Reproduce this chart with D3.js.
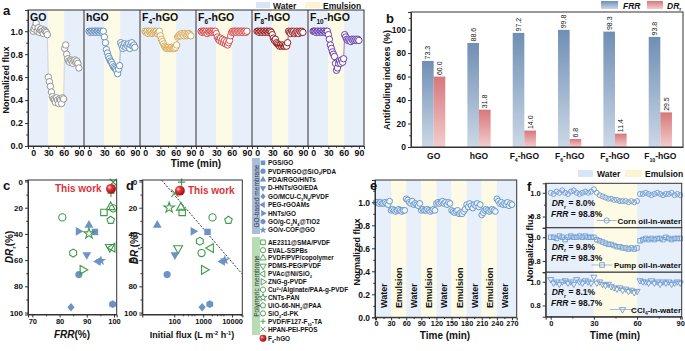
<!DOCTYPE html>
<html>
<head>
<meta charset="utf-8">
<script src="https://cdn.jsdelivr.net/npm/d3@7"></script>
<style>
body { margin: 0; background: #fff; }
text { font-family: "Liberation Sans", Arial, sans-serif; }
</style>
</head>
<body>
<svg id="fig" width="685" height="351"></svg>
<script>
// ---------- panel a : normalized flux of each membrane, sampled every 2 min ----------
var timeA = [0,2,4,6,8,10,12,14,16,18,20,22,24,26,28,30,32,34,36,38,40,42,44,46,48,50,52,54,56,58,60,62,64,66,68,70,72,74,76,78,80,82,84,86,88,90];
var fluxGO = [1.0,1.02,1.04,1.07,1.0,1.03,0.99,1.01,1.02,1.0,0.98,1.01,1.0,0.99,0.97,
  0.6,0.56,0.52,0.47,0.43,0.41,0.4,0.38,0.42,0.4,0.37,0.41,0.4,0.37,0.42,0.41,
  0.85,0.88,0.8,0.76,0.74,0.73,0.75,0.74,0.72,0.74,0.75,0.73,0.74,0.72,0.68];
var fluxHGO = [1.0,0.99,1.0,1.0,0.99,1.0,1.0,0.99,1.0,1.0,0.99,1.0,1.0,0.99,1.0,
  0.95,0.9,0.84,0.81,0.78,0.76,0.74,0.73,0.71,0.69,0.68,0.67,0.66,0.63,0.67,0.7,
  0.9,0.88,0.85,0.87,0.89,0.86,0.88,0.87,0.89,0.85,0.88,0.9,0.87,0.88,0.86];
var fluxF4 = [1.0,0.99,1.0,0.98,1.0,0.99,1.0,0.98,0.99,1.0,0.99,1.0,0.98,0.99,1.0,
  0.96,0.93,0.91,0.89,0.87,0.86,0.85,0.85,0.86,0.85,0.85,0.86,0.85,0.85,0.85,0.86,
  0.88,0.95,0.96,0.97,0.96,0.98,0.97,0.96,0.98,0.97,0.96,0.97,0.98,0.97,0.96];
var fluxF6 = [1.0,0.99,1.0,1.0,0.99,1.0,0.98,1.0,0.99,1.0,1.0,0.99,1.0,0.99,1.0,
  0.98,0.95,0.93,0.92,0.94,0.91,0.93,0.9,0.92,0.89,0.91,0.88,0.9,0.92,0.96,0.99,
  1.0,0.99,1.0,1.0,0.99,1.0,1.0,0.99,1.0,1.0,0.99,1.0,1.0,0.99,1.0];
var fluxF8 = [1.0,1.0,0.99,1.0,1.0,0.99,1.0,1.0,0.99,1.0,1.0,0.99,1.0,1.0,0.99,
  0.97,0.94,0.92,0.93,0.9,0.89,0.88,0.87,0.88,0.87,0.88,0.87,0.87,0.88,0.87,0.9,
  1.0,0.99,0.98,1.0,0.99,1.0,0.98,0.99,1.0,0.99,0.98,1.0,0.99,1.0,0.99];
var fluxF10 = [1.0,1.0,1.0,0.99,1.0,1.0,0.99,1.0,1.0,0.99,1.0,1.0,0.99,1.0,1.0,
  0.97,0.93,0.88,0.85,0.82,0.8,0.78,0.72,0.66,0.68,0.72,0.74,0.72,0.75,0.73,0.76,
  0.97,0.95,0.93,0.92,0.93,0.92,0.91,0.93,0.92,0.93,0.92,0.93,0.92,0.93,0.92];
var membranes = ["GO","hGO","F_{4}-hGO","F_{6}-hGO","F_{8}-hGO","F_{10}-hGO"];
var memColors = ["#8a8a8a","#5b87b8","#d3a24c","#cf3d3d","#8c0b0b","#5a2da3"];
var bandFrom = [-10, 30, 61];
var bandTo = [30, 61, 100];
var bandKind = ["Water","Emulsion","Water"];

// ---------- panel b : antifouling indexes ----------
var frr = [73.3, 88.6, 97.2, 99.8, 98.3, 93.8];
var drr = [60.0, 31.8, 14.0, 6.8, 11.4, 29.5];

// ---------- panels c, d : literature comparison ----------
var litNames = ["PGS/GO","PVDF/RGO@SiO_{2}/PDA","PDA/RGO/HNTs","D-HNTs/GO/EDA","GO/MCU-C_{3}N_{4}/PVDF",
  "PEG-rGOAMs","HNTs/GO","GO/g-C_{3}N_{4}@TiO2","GO/v-COF@GO",
  "AE2311@SMA/PVDF","EVAL-SSPBs","PVDF/PVP/copolymer","PDMS-PEG/PVDF","PVAc@Ni/SiO_{2}","ZNG-g-PVDF",
  "Cu^{2+}/Alginate/PAA-g-PVDF","CNTs-PAN","UiO-66-NH_{2}@PAA","SiO_{2}-d-PK","PVDF/F127-F_{10}-TA","HPAN-PEI-PFOS","F_{6}-hGO"];
var litGroup = ["GO","GO","GO","GO","GO","GO","GO","GO","GO",
  "P","P","P","P","P","P","P","P","P","P","P","P","this"];
var litMarker = ["square","circle","tri","triDown","diamond","triLeft","triRight","hexagon","star",
  "square","circle","tri","triDown","triLeft","triRight","hexagon","star","pentagon","circle","plus","cross","sphere"];
var cFRR = [93, 87.1, 90.8, 90, 84.2, 94.2, 86.9, 99.5, 95.2, 96.3, 81, 98.8, 98.5, 99.4, 88.5, 85, 90.8, 98.8, 99.7, 98.9, 99.7, 98.9];
var cDR = [38.5, 71, 33.3, 55.9, 96, 61, 38, 93.6, 60.5, 23.6, 27.4, 19.5, 50, 50.5, 67.4, 54.6, 39.7, 29.5, 20.5, 9, 0.5, 5.6];
var dFlux = [1418, 57, 26, 106, 925, 4667, 452, 1702, 5600, 189, 2108, 170, 137, 1844, 1083, 769, 67, 7510, 881, 180, 106, 157];
var dDR = [38.5, 71, 33.3, 56, 96, 61, 38, 93.6, 60, 23.6, 27.4, 20, 51, 50.8, 67.4, 45.6, 20, 29.5, 54.6, 0.5, 9, 7];
var guideFlux = [37, 22100];
var guideDR = [-1, 70.5];

// ---------- panel e : cycling, every 3 min ----------
var timeE = d3.range(0, 271, 3);
var fluxE = [1.0,1.0,0.99,1.0,0.99,0.99,1.0,0.99,0.98,1.01,
  0.93,0.94,0.93,0.92,0.93,0.94,0.93,0.92,0.93,0.93,
  1.03,1.02,1.0,0.99,1.01,0.98,0.99,0.98,0.97,0.99,
  0.93,0.94,0.93,0.93,0.94,0.93,0.92,0.93,0.94,0.93,
  0.99,1.0,0.99,1.0,1.01,0.99,1.0,0.98,1.0,0.99,
  0.93,0.92,0.91,0.92,0.93,0.9,0.91,0.9,0.92,0.94,
  0.98,0.96,0.99,0.97,0.95,0.98,0.97,0.99,0.96,0.98,
  0.89,0.91,0.93,0.94,0.93,0.92,0.93,0.94,0.93,0.92,
  1.03,1.01,0.99,1.0,0.98,0.99,0.98,1.0,0.97,0.99,0.98];
var cycleEdges = [30,60,90,120,150,180,210,240];

// ---------- panel f : three emulsions ----------
var timeF = timeA;
var fluxCorn = [1.0,0.99,1.01,1.0,1.02,1.0,0.99,1.01,1.02,1.0,0.99,1.0,1.01,1.0,1.01,
  1.03,1.0,0.98,0.97,0.96,0.95,0.95,0.94,0.94,0.93,0.93,0.93,0.92,0.93,0.92,0.93,
  0.99,0.99,1.0,0.99,0.98,0.99,1.0,0.99,0.98,0.99,0.99,1.0,0.98,0.99,0.98];
var fluxPump = [1.0,1.0,0.99,1.01,1.0,0.98,1.0,1.01,1.0,1.0,1.01,1.0,1.01,1.0,1.0,
  1.0,0.98,0.97,0.96,0.95,0.94,0.94,0.93,0.92,0.92,0.91,0.91,0.9,0.91,0.9,0.91,
  0.97,0.98,0.99,0.98,0.99,0.98,0.99,0.99,0.98,1.0,0.99,0.98,0.99,0.99,0.99];
var fluxCCl4 = [1.02,0.99,1.0,0.98,1.0,1.01,0.99,1.0,0.98,1.02,1.0,0.99,1.01,1.0,0.99,
  1.04,0.99,1.0,0.98,0.97,0.98,0.96,0.95,0.94,0.95,0.93,0.94,0.92,0.93,0.91,0.92,
  1.01,1.0,1.0,0.99,1.01,0.99,1.0,0.98,1.0,0.99,1.0,0.98,0.99,1.0,0.99];
var fNames = ["Corn oil-in-water","Pump oil-in-water","CCl_{4}-in-water"];
var fDR = ["8.0%","9.8%","8.1%"];
var fFRR = ["98.8%","98.3%","98.7%"];
var fMarker = ["circle","square","triDown"];

var WATER = "#e7effb", EMUL = "#fdfbe6", AX = "#333";
var svg = d3.select("#fig");
var defs = svg.append("defs");

function grad(id, c1, c2) {
  var g = defs.append("linearGradient").attr("id", id)
    .attr("x1", 0).attr("y1", 0).attr("x2", 0).attr("y2", 1);
  g.append("stop").attr("offset", "0%").attr("stop-color", c1);
  g.append("stop").attr("offset", "100%").attr("stop-color", c2);
}
grad("gFRR", "#6f8fb4", "#cbd8e7");
grad("gDR", "#d7777b", "#f3cdce");
var sph = defs.append("radialGradient").attr("id", "sph").attr("cx", "35%").attr("cy", "35%").attr("r", "65%");
sph.append("stop").attr("offset", "0%").attr("stop-color", "#ffd8d8");
sph.append("stop").attr("offset", "35%").attr("stop-color", "#e3383d");
sph.append("stop").attr("offset", "100%").attr("stop-color", "#9c1218");

// text with _{sub}, ^{sup} and *italic* pieces
function rich(sel, str, fs) {
  var parts = str.split(/([_^]\{[^}]*\}|\*[^*]*\*)/).filter(function(p) { return p !== ""; });
  var shift = 0;
  parts.forEach(function(p) {
    var t = sel.append("tspan");
    var m = p.match(/^([_^])\{([^}]*)\}$/);
    if (m) {
      var s = m[1] == "_" ? fs * 0.3 : -fs * 0.38;
      t.attr("dy", s - shift).attr("font-size", fs * 0.62).text(m[2]);
      shift = s;
    } else {
      var it = p[0] == "*";
      t.attr("dy", -shift).text(it ? p.slice(1, -1) : p);
      if (it) t.attr("font-style", "italic");
      shift = 0;
    }
  });
}
function label(x, y, str, fs, opt) {
  opt = opt || {};
  var t = svg.append("text").attr("x", x).attr("y", y).attr("font-size", fs)
    .attr("font-weight", opt.weight || "bold").attr("fill", opt.fill || "#111")
    .attr("text-anchor", opt.anchor || "start");
  if (opt.rotate) t.attr("transform", "rotate(" + opt.rotate + "," + x + "," + y + ")");
  rich(t, str, fs);
  return t;
}
function styleAxis(g, fs) {
  g.attr("font-family", null).attr("font-size", null);
  g.selectAll(".domain").attr("stroke", AX);
  g.selectAll(".tick line").attr("stroke", AX);
  g.selectAll(".tick text").attr("font-size", fs).attr("font-weight", "bold").attr("fill", "#111");
  return g;
}
function minor(orient, scale, vals, tx, ty) {
  var ax = (orient == "left" ? d3.axisLeft : d3.axisBottom)(scale).tickValues(vals).tickSize(1.8).tickFormat("");
  var g = svg.append("g").attr("transform", "translate(" + tx + "," + ty + ")").call(ax);
  g.select(".domain").remove();
  g.selectAll(".tick line").attr("stroke", AX);
}
function frame(x0, y0, x1, y1) {
  svg.append("rect").attr("x", x0).attr("y", y0).attr("width", x1 - x0).attr("height", y1 - y0)
    .attr("fill", "none").attr("stroke", AX).attr("stroke-width", 1);
}
function poly(n, r, a0) {
  var pts = d3.range(n).map(function(k) {
    var a = (a0 + k * 360 / n) * Math.PI / 180;
    return [r * Math.cos(a), r * Math.sin(a)];
  });
  return "M" + pts.join("L") + "Z";
}
function symPath(type, r) {
  if (type == "circle") return d3.symbol(d3.symbolCircle, Math.PI * r * r)();
  if (type == "square") return d3.symbol(d3.symbolSquare, 3.2 * r * r)();
  if (type.indexOf("tri") == 0) return d3.symbol(d3.symbolTriangle, 2.6 * r * r)();
  if (type == "diamond") return "M0," + (-r * 1.2) + "L" + r + ",0L0," + (r * 1.2) + "L" + (-r) + ",0Z";
  if (type == "hexagon") return poly(6, r * 1.1, -90);
  if (type == "pentagon") return poly(5, r * 1.1, -90);
  if (type == "star") return d3.symbol(d3.symbolStar, 2.6 * r * r)();
  if (type == "plus") return "M" + (-r) + ",0H" + r + "M0," + (-r) + "V" + r;
  if (type == "cross") return "M" + (-r) + "," + (-r) + "L" + r + "," + r + "M" + (-r) + "," + r + "L" + r + "," + (-r);
  return "";
}
var rotOf = { triDown: 180, triLeft: -90, triRight: 90 };
function marker(x, y, type, r, color, filled, sw) {
  if (type == "sphere") {
    svg.append("circle").attr("cx", x).attr("cy", y).attr("r", r * 1.15).attr("fill", "url(#sph)");
    return;
  }
  var lineOnly = type == "plus" || type == "cross";
  svg.append("path").attr("d", symPath(type, r))
    .attr("transform", "translate(" + x + "," + y + ") rotate(" + (rotOf[type] || 0) + ")")
    .attr("fill", lineOnly ? "none" : (filled ? color : "white"))
    .attr("fill-opacity", filled || lineOnly ? 1 : 0)
    .attr("stroke", filled ? "none" : color).attr("stroke-width", sw || 1);
}

// ================= panel a =================
var aL = 28, aR = 364, aT = 10, aB = 146, aW = (aR - aL) / 6;
var yA = d3.scaleLinear().domain([0, 1.185]).range([aB, aT]);
var seriesA = [fluxGO, fluxHGO, fluxF4, fluxF6, fluxF8, fluxF10];
seriesA.forEach(function(vals, i) {
  var x0 = aL + i * aW;
  var xs = d3.scaleLinear().domain([-10, 100]).range([x0, x0 + aW]);
  bandFrom.forEach(function(b, k) {
    svg.append("rect").attr("x", xs(b)).attr("y", aT).attr("width", xs(bandTo[k]) - xs(b))
      .attr("height", aB - aT).attr("fill", bandKind[k] == "Water" ? WATER : EMUL);
  });
  var pts = vals.map(function(v, j) { return [timeA[j], v]; });
  svg.append("path").datum(pts)
    .attr("d", d3.line().x(function(d) { return xs(d[0]); }).y(function(d) { return yA(d[1]); }))
    .attr("fill", "none").attr("stroke", i == 0 ? "#bdbdbd" : memColors[i]).attr("stroke-width", 0.6);
  svg.append("g").selectAll("circle").data(pts).join("circle")
    .attr("cx", function(d) { return xs(d[0]); }).attr("cy", function(d) { return yA(d[1]); })
    .attr("r", 3.2).attr("fill", "white").attr("stroke", memColors[i]).attr("stroke-width", 0.9);
  minor("bottom", xs, [15, 45, 75], 0, aB);
  styleAxis(svg.append("g").attr("transform", "translate(0," + aB + ")")
    .call(d3.axisBottom(xs).tickValues([0, 30, 60, 90]).tickSize(3).tickPadding(1)), 8.8);
  label(x0 + 2, 21, membranes[i], 10.5);
});
minor("left", yA, [0.1, 0.3, 0.5, 0.7, 0.9, 1.1], aL, 0);
styleAxis(svg.append("g").attr("transform", "translate(" + aL + ",0)")
  .call(d3.axisLeft(yA).tickValues([0, 0.2, 0.4, 0.6, 0.8, 1.0]).tickFormat(d3.format(".1f")).tickSize(3).tickPadding(2)), 9);
frame(aL, aT, aR, aB);
d3.range(1, 6).forEach(function(k) {
  svg.append("line").attr("x1", aL + k * aW).attr("x2", aL + k * aW).attr("y1", aT).attr("y2", aB)
    .attr("stroke", AX).attr("stroke-width", 1);
});
label(196, 167, "Time (min)", 10, { anchor: "middle" });
label(8.5, 80, "Normalized flux", 9, { anchor: "middle", rotate: -90 });
label(3, 15, "a", 13);
svg.append("rect").attr("x", 256).attr("y", 2).attr("width", 14).attr("height", 6).attr("fill", "#d8e5f6");
label(273, 8.5, "Water", 8.5);
svg.append("rect").attr("x", 305).attr("y", 2).attr("width", 15).attr("height", 6).attr("fill", "#fbf3d3");
label(323, 8.5, "Emulsion", 8.5);

// ================= panel b =================
var bL = 411, bR = 683, bT = 12, bB = 147;
var yB = d3.scaleLinear().domain([0, 115]).range([bB, bT]);
var xB = d3.scaleBand().domain(membranes).range([bL, bR]);
var xB1 = d3.scaleBand().domain(["FRR", "DR"]).range([0, xB.bandwidth()]).paddingOuter(0.95);
membranes.forEach(function(m, i) {
  [["FRR", frr[i], "url(#gFRR)"], ["DR", drr[i], "url(#gDR)"]].forEach(function(b) {
    var x = xB(m) + xB1(b[0]);
    svg.append("rect").attr("x", x).attr("y", yB(b[1])).attr("width", xB1.bandwidth())
      .attr("height", bB - yB(b[1])).attr("fill", b[2]);
    var cx = x + xB1.bandwidth() / 2 + 2.5, cy = yB(b[1]) - 1.5;
    svg.append("text").attr("x", cx).attr("y", cy).attr("font-size", 7).attr("fill", "#111")
      .attr("transform", "rotate(-90," + cx + "," + cy + ")").text(b[1].toFixed(1));
  });
});
minor("left", yB, [10, 30, 50, 70, 90, 110], bL, 0);
styleAxis(svg.append("g").attr("transform", "translate(" + bL + ",0)")
  .call(d3.axisLeft(yB).tickValues([0, 20, 40, 60, 80, 100]).tickSize(3).tickPadding(2)), 8.5);
styleAxis(svg.append("g").attr("transform", "translate(0," + bB + ")")
  .call(d3.axisBottom(xB).tickSize(0).tickPadding(6).tickFormat("")), 8.5);
membranes.forEach(function(m) {
  label(xB(m) + xB.bandwidth() / 2, 159, m, 8.5, { anchor: "middle" });
});
frame(bL, bT, bR, bB);
label(390, 80, "Antifouling indexes (%)", 9, { anchor: "middle", rotate: -90 });
label(386, 23, "b", 13);
svg.append("rect").attr("x", 601).attr("y", 1).attr("width", 17).attr("height", 8).attr("fill", "url(#gFRR)");
label(623, 8.5, "*FRR*", 8.5);
svg.append("rect").attr("x", 647).attr("y", 1).attr("width", 16).attr("height", 8).attr("fill", "url(#gDR)");
label(667, 8.5, "*DR*_{r}", 8.5);

// ================= panel c =================
var BLUE = "#6b93c6", GREEN = "#3f9b4a", RED = "#d9343c";
var cL = 28, cR = 116.7, cT = 180, cB = 314.5;
var xC = d3.scaleLinear().domain([68.4, 101]).range([cL, cR]);
var yC = d3.scaleLinear().domain([-1.15, 101.5]).range([cT, cB]);
function drawLit(xf, xv, yv) {
  litNames.forEach(function(n, i) {
    if (xv[i] == null) return;
    var g = litGroup[i];
    marker(xf(xv[i]), yC(yv[i]), litMarker[i], g == "this" ? 4.3 : 3.6,
      g == "GO" ? BLUE : GREEN, g == "GO", 1.1);
  });
}
drawLit(xC, cFRR, cDR);
minor("bottom", xC, [75, 85, 95], 0, cB);
minor("left", yC, [10, 30, 50, 70, 90], cL, 0);
styleAxis(svg.append("g").attr("transform", "translate(0," + cB + ")")
  .call(d3.axisBottom(xC).tickValues([70, 80, 90, 100]).tickSize(3).tickPadding(1.5)), 7.5);
styleAxis(svg.append("g").attr("transform", "translate(" + cL + ",0)")
  .call(d3.axisLeft(yC).tickValues([0, 20, 40, 60, 80, 100]).tickSize(3).tickPadding(2)), 8);
frame(cL, cT, cR, cB);
label(55, 192, "This work", 10, { fill: RED });
label(72, 338, "*FRR*(%)", 10, { anchor: "middle" });
label(13, 247, "*DR*_{r}(%)", 10, { anchor: "middle", rotate: -90 });
label(3, 190, "c", 13);

// ================= panel d =================
var dL = 142.3, dR = 242.3;
var xD = d3.scaleLog().domain([7.9, 22600]).range([dL, dR]);
defs.append("clipPath").attr("id", "clipD").append("rect")
  .attr("x", dL).attr("y", cT).attr("width", dR - dL).attr("height", cB - cT);
svg.append("line").attr("clip-path", "url(#clipD)")
  .attr("x1", xD(guideFlux[0])).attr("y1", yC(guideDR[0])).attr("x2", xD(guideFlux[1])).attr("y2", yC(guideDR[1]))
  .attr("stroke", "#222").attr("stroke-width", 0.9).attr("stroke-dasharray", "2,1.5");
drawLit(xD, dFlux, dDR);
minor("left", yC, [10, 30, 50, 70, 90], dL, 0);
minor("bottom", xD, [200, 300, 400, 500, 2000, 3000, 4000, 5000, 20000], 0, cB);
styleAxis(svg.append("g").attr("transform", "translate(0," + cB + ")")
  .call(d3.axisBottom(xD).tickValues([100, 1000, 10000]).tickFormat(d3.format("d")).tickSize(3).tickPadding(1.5)), 7.5);
styleAxis(svg.append("g").attr("transform", "translate(" + dL + ",0)")
  .call(d3.axisLeft(yC).tickValues([0, 20, 40, 60, 80, 100]).tickSize(3).tickPadding(2)), 8);
frame(dL, cT, dR, cB);
label(188, 194, "This work", 10, { fill: RED });
label(192, 338, "Initial flux (L m^{-2} h^{-1})", 9, { anchor: "middle" });
label(138, 248, "*DR*_{r}(%)", 10, { anchor: "middle", rotate: -90 });
label(126, 190, "d", 13);

// ================= legend between d and e =================
svg.append("rect").attr("x", 252).attr("y", 158).attr("width", 8).attr("height", 76).attr("fill", "#a9bedb");
svg.append("rect").attr("x", 252).attr("y", 237).attr("width", 8).attr("height", 98).attr("fill", "#b7dcb6");
label(258.5, 196, "GO-based membrane", 6.5, { anchor: "middle", rotate: -90, weight: "normal", fill: "#333" });
label(258.5, 286, "Polymeric membrane", 6.5, { anchor: "middle", rotate: -90, weight: "normal", fill: "#333" });
litNames.forEach(function(n, i) {
  var g = litGroup[i];
  var y = g == "GO" ? 162.8 + i * 8.4 : (g == "P" ? 242.3 + (i - 9) * 7.9 : 338.3);
  marker(263, y, litMarker[i], g == "this" ? 3 : 2.6, g == "GO" ? BLUE : GREEN, g == "GO", 0.9);
  label(268, y + 2.3, n, 6.4);
});

// ================= panel e =================
var eL = 375, eR = 516.7, eT = 180, eB = 317.3;
var xE = d3.scaleLinear().domain([-2, 279.4]).range([eL, eR]);
var yE = d3.scaleLinear().domain([0, 1.194]).range([eB, eT]);
var eEdges = [-2].concat(cycleEdges, [279.4]);
d3.range(eEdges.length - 1).forEach(function(k) {
  var x0 = xE(eEdges[k]), x1 = xE(eEdges[k + 1]);
  svg.append("rect").attr("x", x0).attr("y", eT).attr("width", x1 - x0).attr("height", eB - eT)
    .attr("fill", k % 2 ? EMUL : WATER);
  var cx = (xE(Math.max(0, eEdges[k])) + xE(Math.min(270, eEdges[k + 1]))) / 2 + 3.5;
  label(cx, 308, k % 2 ? "Emulsion" : "Water", 9, { rotate: -90 });
});
svg.append("g").selectAll("circle").data(fluxE).join("circle")
  .attr("cx", function(d, j) { return xE(timeE[j]); }).attr("cy", function(d) { return yE(d); })
  .attr("r", 2.9).attr("fill", "#eef4fb").attr("stroke", "#5b8ec7").attr("stroke-width", 0.9);
minor("left", yE, [0.1, 0.3, 0.5, 0.7, 0.9, 1.1], eL, 0);
minor("bottom", xE, [15, 45, 75, 105, 135, 165, 195, 225, 255], 0, eB);
styleAxis(svg.append("g").attr("transform", "translate(0," + eB + ")")
  .call(d3.axisBottom(xE).tickValues(d3.range(0, 271, 30)).tickSize(3).tickPadding(1)), 7.3);
styleAxis(svg.append("g").attr("transform", "translate(" + eL + ",0)")
  .call(d3.axisLeft(yE).tickValues([0, 0.2, 0.4, 0.6, 0.8, 1.0]).tickFormat(d3.format(".1f")).tickSize(3).tickPadding(2)), 8.5);
frame(eL, eT, eR, eB);
label(445, 339, "Time (min)", 10, { anchor: "middle" });
label(360, 252, "Normalized flux", 9, { anchor: "middle", rotate: -90 });
label(370, 190, "e", 13);

// ================= panel f =================
var fL = 545.7, fR = 681.7, fT = 183.3, fB = 316.7, fH = (fB - fT) / 3;
var xF = d3.scaleLinear().domain([-3.5, 91]).range([fL, fR]);
var fSeries = [fluxCorn, fluxPump, fluxCCl4];
fSeries.forEach(function(vals, i) {
  var top = fT + i * fH, bot = top + fH;
  var yF = d3.scaleLinear().domain([0.705, 1.08]).range([bot, top]);
  [[-3.5, 30, WATER], [30, 60, EMUL], [60, 91, WATER]].forEach(function(b) {
    svg.append("rect").attr("x", xF(b[0])).attr("y", top).attr("width", xF(b[1]) - xF(b[0]))
      .attr("height", fH).attr("fill", b[2]);
  });
  vals.forEach(function(v, j) {
    marker(xF(timeF[j]), yF(v), fMarker[i], 2.5, "#6e9bd2", false, 0.9);
  });
  minor("left", yF, [0.9], fL, 0);
  styleAxis(svg.append("g").attr("transform", "translate(" + fL + ",0)")
    .call(d3.axisLeft(yF).tickValues([0.8, 1.0]).tickFormat(d3.format(".1f")).tickSize(3).tickPadding(2)), 7.5);
  frame(fL, top, fR, bot);
  var off = [0, 44.5, 89][i];
  label(551.7, 206 + off - [0, 0.8, 0][i], "*DR*_{r} = " + fDR[i], 8.5);
  label(551, 217.3 + off - [0, 0.6, 0][i], "*FRR* = " + fFRR[i], 8.5);
  var lx = [[596.7, 616.7], [591.7, 612.3], [610, 635]][i];
  var ly = 220.5 + off;
  svg.append("line").attr("x1", lx[0]).attr("x2", lx[1]).attr("y1", ly).attr("y2", ly)
    .attr("stroke", "#9dbde3").attr("stroke-width", 1);
  marker((lx[0] + lx[1]) / 2, ly, fMarker[i], 2.6, "#6e9bd2", false, 0.9);
  label(681, 223.5 + off, fNames[i], 8, { anchor: "end" });
});
minor("bottom", xF, [15, 45, 75], 0, fB);
styleAxis(svg.append("g").attr("transform", "translate(0," + fB + ")")
  .call(d3.axisBottom(xF).tickValues([0, 30, 60, 90]).tickSize(3).tickPadding(1)), 7.5);
label(615, 339, "Time (min)", 10, { anchor: "middle" });
label(533, 248, "Normalized flux", 9, { anchor: "middle", rotate: -90 });
label(527, 191, "f", 13);
svg.append("rect").attr("x", 578).attr("y", 170).attr("width", 15).attr("height", 7).attr("fill", "#d8e5f6");
label(597, 176.5, "Water", 8.5);
svg.append("rect").attr("x", 625).attr("y", 170).attr("width", 17).attr("height", 7).attr("fill", "#fbf3d3");
label(645, 176.5, "Emulsion", 8.5);
</script>
</body>
</html>
